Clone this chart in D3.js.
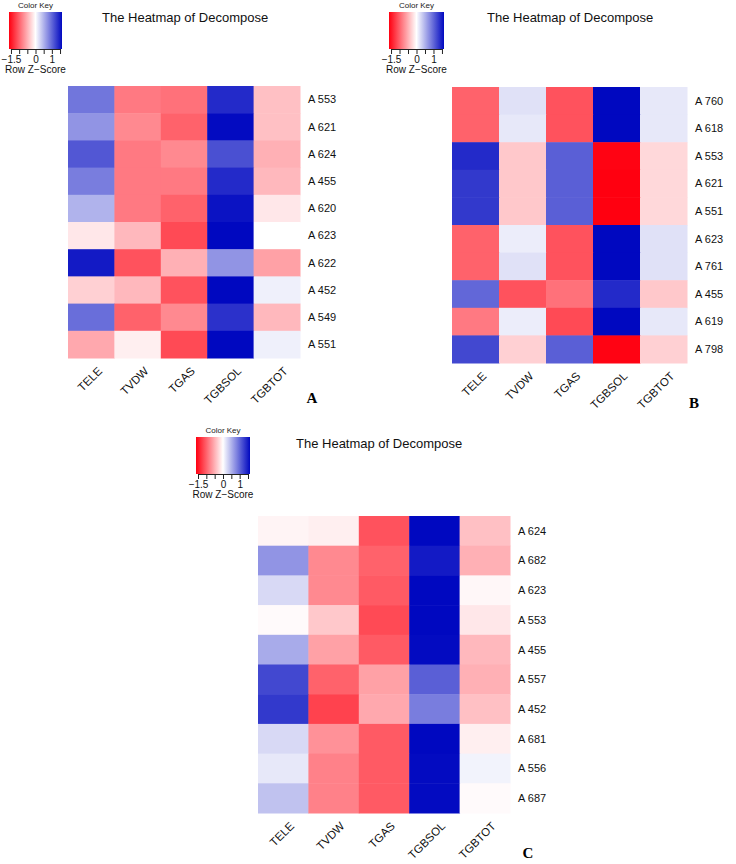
<!DOCTYPE html>
<html>
<head>
<meta charset="utf-8">
<script src="https://cdn.jsdelivr.net/npm/d3@7"></script>
<style>
  body { margin: 0; background: #fff; }
  svg { display: block; }
</style>
</head>
<body>
<div id="chart"></div>
<script>
const W = 736, H = 864;

// columns shared by all three heatmaps
const cols = ["TELE", "TVDW", "TGAS", "TGBSOL", "TGBTOT"];

// panel A, row z-scores
const rowsA = ["A 553", "A 621", "A 624", "A 455", "A 620", "A 623", "A 622", "A 452", "A 549", "A 551"];
const valuesA = [
  [0.9, -0.85, -0.9, 1.4, -0.4],
  [0.7, -0.75, -1.0, 1.6, -0.4],
  [1.1, -0.85, -0.75, 1.15, -0.5],
  [0.85, -0.85, -0.85, 1.4, -0.45],
  [0.5, -0.85, -1.0, 1.55, -0.15],
  [-0.15, -0.45, -1.15, 1.7, 0.0],
  [1.5, -1.1, -0.5, 0.7, -0.6],
  [-0.3, -0.45, -1.1, 1.7, 0.1],
  [0.95, -1.0, -0.75, 1.35, -0.45],
  [-0.55, -0.1, -1.15, 1.7, 0.1]
];

// panel B
const rowsB = ["A 760", "A 618", "A 553", "A 621", "A 551", "A 623", "A 761", "A 455", "A 619", "A 798"];
const valuesB = [
  [-1.0, 0.2, -1.1, 1.65, 0.15],
  [-1.0, 0.15, -1.1, 1.65, 0.15],
  [1.4, -0.35, 1.05, -1.6, -0.25],
  [1.3, -0.35, 1.05, -1.65, -0.25],
  [1.3, -0.35, 1.05, -1.65, -0.25],
  [-1.0, 0.12, -1.1, 1.65, 0.2],
  [-1.0, 0.2, -1.1, 1.65, 0.2],
  [1.0, -1.1, -0.9, 1.4, -0.35],
  [-0.85, 0.12, -1.15, 1.65, 0.15],
  [1.2, -0.3, 1.05, -1.6, -0.3]
];

// panel C
const rowsC = ["A 624", "A 682", "A 623", "A 553", "A 455", "A 557", "A 452", "A 681", "A 556", "A 687"];
const valuesC = [
  [-0.07, -0.1, -1.1, 1.65, -0.4],
  [0.7, -0.75, -1.0, 1.5, -0.5],
  [0.25, -0.75, -1.05, 1.65, -0.05],
  [-0.03, -0.35, -1.15, 1.7, -0.15],
  [0.55, -0.6, -1.05, 1.6, -0.45],
  [1.2, -1.0, -0.6, 1.05, -0.5],
  [1.3, -1.2, -0.55, 0.85, -0.4],
  [0.25, -0.7, -1.05, 1.65, -0.1],
  [0.15, -0.8, -1.05, 1.6, 0.08],
  [0.4, -0.8, -1.05, 1.6, -0.03]
];

// colour key
const keyTicks = [-1.5, -1, -0.5, 0, 0.5, 1, 1.5];
const keyLabels = [-1.5, 0, 1];
const zMin = -1.62, zMax = 1.62;

const color = d3.scaleLinear()
  .domain([zMin, 0, zMax])
  .range(["#ff0010", "#ffffff", "#0008c0"])
  .clamp(true);

const svg = d3.select("#chart").append("svg")
  .attr("width", W)
  .attr("height", H)
  .attr("font-family", "'Liberation Sans', Arial, sans-serif");

// gradient for the key
const grad = svg.append("defs").append("linearGradient")
  .attr("id", "keygrad");
d3.range(0, 1.0001, 0.05).forEach(t => {
  grad.append("stop")
    .attr("offset", t)
    .attr("stop-color", color(zMin + t * (zMax - zMin)));
});

const panels = [
  { rows: rowsA, values: valuesA, letter: "A",
    x0: 68, x1: 300, y0: 86, y1: 358,
    key: [9, 62, 12, 49], title: [102, 22], tag: [312, 403] },
  { rows: rowsB, values: valuesB, letter: "B",
    x0: 452, x1: 687, y0: 87, y1: 363,
    key: [389, 444, 12, 49], title: [487, 22], tag: [694, 408] },
  { rows: rowsC, values: valuesC, letter: "C",
    x0: 258, x1: 510, y0: 516, y1: 813,
    key: [196, 250, 437, 474], title: [296, 448], tag: [528, 858] }
];

panels.forEach(p => {
  const g = svg.append("g");

  const x = d3.scaleBand().domain(cols).range([p.x0, p.x1]);
  const y = d3.scaleBand().domain(p.rows).range([p.y0, p.y1]);

  const cells = [];
  p.values.forEach((row, i) => row.forEach((v, j) => {
    cells.push({ r: p.rows[i], c: cols[j], v: v });
  }));

  g.selectAll("rect.cell")
    .data(cells)
    .enter()
    .append("rect")
    .attr("class", "cell")
    .attr("x", d => x(d.c))
    .attr("y", d => y(d.r))
    .attr("width", x.bandwidth() + 0.5)
    .attr("height", y.bandwidth() + 0.5)
    .attr("fill", d => color(d.v));

  // row labels on the right
  g.selectAll("text.row")
    .data(p.rows)
    .enter()
    .append("text")
    .attr("class", "row")
    .attr("x", p.x1 + 8)
    .attr("y", d => y(d) + y.bandwidth() / 2)
    .attr("dy", "0.35em")
    .attr("font-size", "11px")
    .attr("fill", "#111")
    .text(d => d);

  // column labels, rotated
  g.selectAll("text.col")
    .data(cols)
    .enter()
    .append("text")
    .attr("class", "col")
    .attr("transform", d => `translate(${x(d) + x.bandwidth() / 2 + 6},${p.y1 + 8}) rotate(-45)`)
    .attr("text-anchor", "end")
    .attr("dy", "0.7em")
    .attr("font-size", "11.5px")
    .attr("fill", "#111")
    .text(d => d);

  // panel letter
  g.append("text")
    .attr("x", p.tag[0])
    .attr("y", p.tag[1])
    .attr("text-anchor", "middle")
    .attr("font-family", "'Liberation Serif', 'Times New Roman', serif")
    .attr("font-weight", "bold")
    .attr("font-size", "15px")
    .text(p.letter);

  // title
  g.append("text")
    .attr("x", p.title[0])
    .attr("y", p.title[1])
    .attr("font-size", "13px")
    .attr("fill", "#111")
    .text("The Heatmap of Decompose");

  // colour key
  const [kx0, kx1, ky0, ky1] = p.key;
  const kx = d3.scaleLinear().domain([zMin, zMax]).range([kx0, kx1]);

  g.append("rect")
    .attr("x", kx0)
    .attr("y", ky0)
    .attr("width", kx1 - kx0)
    .attr("height", ky1 - ky0)
    .attr("fill", "url(#keygrad)");

  g.append("text")
    .attr("x", (kx0 + kx1) / 2)
    .attr("y", ky0 - 4)
    .attr("text-anchor", "middle")
    .attr("font-size", "8px")
    .attr("fill", "#222")
    .text("Color Key");

  const axis = d3.axisBottom(kx)
    .tickValues(keyTicks)
    .tickSize(5)
    .tickSizeOuter(0)
    .tickPadding(2)
    .tickFormat(d => keyLabels.includes(d) ? d3.format("")(d) : "");

  const ax = g.append("g")
    .attr("transform", `translate(0,${ky1})`)
    .call(axis);
  ax.select(".domain")
    .attr("d", `M${kx(-1.5)},0.5H${kx(1.5)}`)
    .attr("stroke", "#222");
  ax.selectAll(".tick line").attr("stroke", "#222");
  ax.selectAll(".tick text")
    .attr("font-size", "10px")
    .attr("font-family", "'Liberation Sans', Arial, sans-serif")
    .attr("fill", "#111");

  g.append("text")
    .attr("x", (kx0 + kx1) / 2)
    .attr("y", ky1 + 24)
    .attr("text-anchor", "middle")
    .attr("font-size", "10px")
    .attr("fill", "#111")
    .text("Row Z\u2212Score");
});
</script>
</body>
</html>
